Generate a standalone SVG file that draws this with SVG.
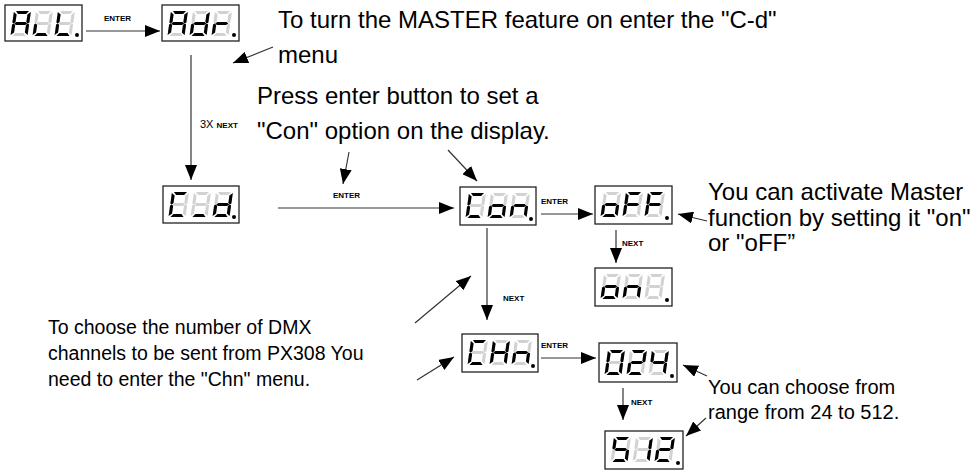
<svg xmlns="http://www.w3.org/2000/svg" xmlns:xlink="http://www.w3.org/1999/xlink" width="979" height="470" viewBox="0 0 979 470">
<style>
.box{fill:#fff;stroke:#222;stroke-width:1.3}
.off{fill:#d2d2d2}
.on{fill:#000}
.txt{font-family:"Liberation Sans",Arial,sans-serif;fill:#000}
.big{font-size:24px}
.mid{font-size:19.5px}
.mid2{font-size:20px}
.lbl{font-family:"Liberation Sans",Arial,sans-serif;font-size:8px;font-weight:bold;fill:#000}
.con{stroke:#333;stroke-width:1.2;fill:none;marker-end:url(#ah)}
</style>
<defs>
<marker id="ah" markerUnits="userSpaceOnUse" markerWidth="16" markerHeight="12" refX="15" refY="6" orient="auto">
<path d="M0,0 L15,6 L0,12 Z" fill="#000"/>
</marker>
<path id="sa" d="M2,0 H15 L12.5,3.1 H4.5 Z"/>
<path id="sb" d="M17,1 V11.5 L15.5,12.5 L13.9,11 V3.5 Z"/>
<path id="sc" d="M17,13.5 V24 L13.9,21.5 V14 L15.5,12.5 Z"/>
<path id="sd" d="M2,25 H15 L12.5,21.9 H4.5 Z"/>
<path id="se" d="M0,13.5 L1.5,12.5 L3.1,14 V21.5 L0,24 Z"/>
<path id="sf" d="M0,1 L3.1,3.5 V11 L1.5,12.5 L0,11.5 Z"/>
<path id="sg" d="M2,12.5 L4,11 H13 L15,12.5 L13,14 H4 Z"/>
<g id="d8"><use xlink:href="#sa"/><use xlink:href="#sb"/><use xlink:href="#sc"/><use xlink:href="#sd"/><use xlink:href="#se"/><use xlink:href="#sf"/><use xlink:href="#sg"/></g>
</defs>
<rect width="979" height="470" fill="#fff"/>

<g id="n-all">
<rect class="box" x="5" y="5" width="77" height="36"/>
<g transform="translate(14,11) skewX(-8)"><use xlink:href="#d8" class="off"/><use xlink:href="#sa" class="on"/><use xlink:href="#sb" class="on"/><use xlink:href="#sc" class="on"/><use xlink:href="#se" class="on"/><use xlink:href="#sf" class="on"/><use xlink:href="#sg" class="on"/></g>
<g transform="translate(36,11) skewX(-8)"><use xlink:href="#d8" class="off"/><use xlink:href="#sd" class="on"/><use xlink:href="#se" class="on"/></g>
<g transform="translate(58,11) skewX(-8)"><use xlink:href="#d8" class="off"/><use xlink:href="#sd" class="on"/><use xlink:href="#se" class="on"/><use xlink:href="#sf" class="on"/></g>
<circle class="on" cx="77" cy="35" r="2"/>
</g>

<g id="n-adr">
<rect class="box" x="162" y="5" width="77" height="36"/>
<g transform="translate(171,11) skewX(-8)"><use xlink:href="#d8" class="off"/><use xlink:href="#sa" class="on"/><use xlink:href="#sb" class="on"/><use xlink:href="#sc" class="on"/><use xlink:href="#se" class="on"/><use xlink:href="#sf" class="on"/><use xlink:href="#sg" class="on"/></g>
<g transform="translate(193,11) skewX(-8)"><use xlink:href="#d8" class="off"/><use xlink:href="#sb" class="on"/><use xlink:href="#sc" class="on"/><use xlink:href="#sd" class="on"/><use xlink:href="#se" class="on"/><use xlink:href="#sg" class="on"/></g>
<g transform="translate(215,11) skewX(-8)"><use xlink:href="#d8" class="off"/><use xlink:href="#se" class="on"/><use xlink:href="#sg" class="on"/></g>
<circle class="on" cx="234" cy="35" r="2"/>
</g>

<g id="n-cd">
<rect class="box" x="163" y="186" width="76" height="37"/>
<g transform="translate(172,192) skewX(-8)"><use xlink:href="#d8" class="off"/><use xlink:href="#sa" class="on"/><use xlink:href="#sd" class="on"/><use xlink:href="#se" class="on"/><use xlink:href="#sf" class="on"/></g>
<g transform="translate(194,192) skewX(-8)"><use xlink:href="#d8" class="off"/><use xlink:href="#sd" class="on"/></g>
<g transform="translate(216,192) skewX(-8)"><use xlink:href="#d8" class="off"/><use xlink:href="#sb" class="on"/><use xlink:href="#sc" class="on"/><use xlink:href="#sd" class="on"/><use xlink:href="#se" class="on"/><use xlink:href="#sg" class="on"/></g>
<circle class="on" cx="234" cy="217" r="2"/>
</g>

<g id="n-con">
<rect class="box" x="460" y="187" width="76" height="38"/>
<g transform="translate(469,193) skewX(-8)"><use xlink:href="#d8" class="off"/><use xlink:href="#sa" class="on"/><use xlink:href="#sd" class="on"/><use xlink:href="#se" class="on"/><use xlink:href="#sf" class="on"/></g>
<g transform="translate(491,193) skewX(-8)"><use xlink:href="#d8" class="off"/><use xlink:href="#sc" class="on"/><use xlink:href="#sd" class="on"/><use xlink:href="#se" class="on"/><use xlink:href="#sg" class="on"/></g>
<g transform="translate(513,193) skewX(-8)"><use xlink:href="#d8" class="off"/><use xlink:href="#sc" class="on"/><use xlink:href="#se" class="on"/><use xlink:href="#sg" class="on"/></g>
<circle class="on" cx="531" cy="219" r="2"/>
</g>

<g id="n-off">
<rect class="box" x="595" y="186" width="77" height="38"/>
<g transform="translate(604,192) skewX(-8)"><use xlink:href="#d8" class="off"/><use xlink:href="#sc" class="on"/><use xlink:href="#sd" class="on"/><use xlink:href="#se" class="on"/><use xlink:href="#sg" class="on"/></g>
<g transform="translate(626,192) skewX(-8)"><use xlink:href="#d8" class="off"/><use xlink:href="#sa" class="on"/><use xlink:href="#se" class="on"/><use xlink:href="#sf" class="on"/><use xlink:href="#sg" class="on"/></g>
<g transform="translate(648,192) skewX(-8)"><use xlink:href="#d8" class="off"/><use xlink:href="#sa" class="on"/><use xlink:href="#se" class="on"/><use xlink:href="#sf" class="on"/><use xlink:href="#sg" class="on"/></g>
<circle class="on" cx="667" cy="218" r="2"/>
</g>

<g id="n-on">
<rect class="box" x="595" y="268" width="77" height="38"/>
<g transform="translate(604,274) skewX(-8)"><use xlink:href="#d8" class="off"/><use xlink:href="#sc" class="on"/><use xlink:href="#sd" class="on"/><use xlink:href="#se" class="on"/><use xlink:href="#sg" class="on"/></g>
<g transform="translate(626,274) skewX(-8)"><use xlink:href="#d8" class="off"/><use xlink:href="#sc" class="on"/><use xlink:href="#se" class="on"/><use xlink:href="#sg" class="on"/></g>
<g transform="translate(648,274) skewX(-8)"><use xlink:href="#d8" class="off"/></g>
<circle class="on" cx="667" cy="300" r="2"/>
</g>

<g id="n-chn">
<rect class="box" x="462" y="334" width="76" height="38"/>
<g transform="translate(471,340) skewX(-8)"><use xlink:href="#d8" class="off"/><use xlink:href="#sa" class="on"/><use xlink:href="#sd" class="on"/><use xlink:href="#se" class="on"/><use xlink:href="#sf" class="on"/></g>
<g transform="translate(493,340) skewX(-8)"><use xlink:href="#d8" class="off"/><use xlink:href="#sb" class="on"/><use xlink:href="#sc" class="on"/><use xlink:href="#se" class="on"/><use xlink:href="#sf" class="on"/><use xlink:href="#sg" class="on"/></g>
<g transform="translate(515,340) skewX(-8)"><use xlink:href="#d8" class="off"/><use xlink:href="#sc" class="on"/><use xlink:href="#se" class="on"/><use xlink:href="#sg" class="on"/></g>
<circle class="on" cx="533" cy="366" r="2"/>
</g>

<g id="n-024">
<rect class="box" x="599" y="343" width="78" height="39"/>
<g transform="translate(608,350) skewX(-8)"><use xlink:href="#d8" class="off"/><use xlink:href="#sa" class="on"/><use xlink:href="#sb" class="on"/><use xlink:href="#sc" class="on"/><use xlink:href="#sd" class="on"/><use xlink:href="#se" class="on"/><use xlink:href="#sf" class="on"/></g>
<g transform="translate(630,350) skewX(-8)"><use xlink:href="#d8" class="off"/><use xlink:href="#sa" class="on"/><use xlink:href="#sb" class="on"/><use xlink:href="#sg" class="on"/><use xlink:href="#se" class="on"/><use xlink:href="#sd" class="on"/></g>
<g transform="translate(652,350) skewX(-8)"><use xlink:href="#d8" class="off"/><use xlink:href="#sf" class="on"/><use xlink:href="#sg" class="on"/><use xlink:href="#sb" class="on"/><use xlink:href="#sc" class="on"/></g>
<circle class="on" cx="672" cy="376" r="2"/>
</g>

<g id="n-512">
<rect class="box" x="605" y="431" width="78" height="38"/>
<g transform="translate(614,437) skewX(-8)"><use xlink:href="#d8" class="off"/><use xlink:href="#sa" class="on"/><use xlink:href="#sf" class="on"/><use xlink:href="#sg" class="on"/><use xlink:href="#sc" class="on"/><use xlink:href="#sd" class="on"/></g>
<g transform="translate(636,437) skewX(-8)"><use xlink:href="#d8" class="off"/><use xlink:href="#sb" class="on"/><use xlink:href="#sc" class="on"/></g>
<g transform="translate(658,437) skewX(-8)"><use xlink:href="#d8" class="off"/><use xlink:href="#sa" class="on"/><use xlink:href="#sb" class="on"/><use xlink:href="#sg" class="on"/><use xlink:href="#se" class="on"/><use xlink:href="#sd" class="on"/></g>
<circle class="on" cx="678" cy="463" r="2"/>
</g>

<g id="connectors">
<line class="con" x1="86" y1="31" x2="160" y2="31"/>
<text class="lbl" x="104" y="21">ENTER</text>
<line class="con" x1="191" y1="55" x2="191" y2="180"/>
<text class="txt" x="200" y="128" font-size="11">3X <tspan font-size="8" font-weight="bold">NEXT</tspan></text>
<line class="con" x1="273" y1="47" x2="233" y2="63"/>
<line class="con" x1="349" y1="152" x2="343" y2="184"/>
<line class="con" x1="448" y1="150" x2="477" y2="181"/>
<line class="con" x1="278" y1="208" x2="454" y2="208"/>
<text class="lbl" x="333" y="198">ENTER</text>
<line class="con" x1="541" y1="214" x2="593" y2="214"/>
<text class="lbl" x="541" y="204">ENTER</text>
<line class="con" x1="616" y1="230" x2="616" y2="263"/>
<text class="lbl" x="622" y="246">NEXT</text>
<line class="con" x1="707" y1="221" x2="678" y2="214"/>
<line class="con" x1="487" y1="228" x2="487" y2="320"/>
<text class="lbl" x="503" y="301">NEXT</text>
<line class="con" x1="415" y1="323" x2="471" y2="276"/>
<line class="con" x1="417" y1="380" x2="454" y2="357"/>
<line class="con" x1="541" y1="358" x2="596" y2="358"/>
<text class="lbl" x="541" y="348">ENTER</text>
<line class="con" x1="623" y1="388" x2="623" y2="420"/>
<text class="lbl" x="631" y="405">NEXT</text>
<line class="con" x1="707" y1="376" x2="683" y2="365"/>
<line class="con" x1="706" y1="418" x2="686" y2="436"/>
</g>

<g id="texts">
<text class="txt big" x="278" y="28">To turn the MASTER feature on enter the "C-d"</text>
<text class="txt big" x="278" y="63">menu</text>
<text class="txt big" x="257" y="104">Press enter button to set a</text>
<text class="txt big" x="257" y="139">"Con" option on the display.</text>
<text class="txt big" x="708" y="200">You can activate Master</text>
<text class="txt big" x="708" y="226">function by setting it "on"</text>
<text class="txt big" x="708" y="251">or "oFF”</text>
<text class="txt mid" x="48" y="334">To choose the number of DMX</text>
<text class="txt mid" x="48" y="360">channels to be sent from PX308 You</text>
<text class="txt mid" x="48" y="386">need to enter the "Chn" menu.</text>
<text class="txt mid2" x="708" y="394">You can choose from</text>
<text class="txt mid2" x="708" y="419">range from 24 to 512.</text>
</g>
</svg>
